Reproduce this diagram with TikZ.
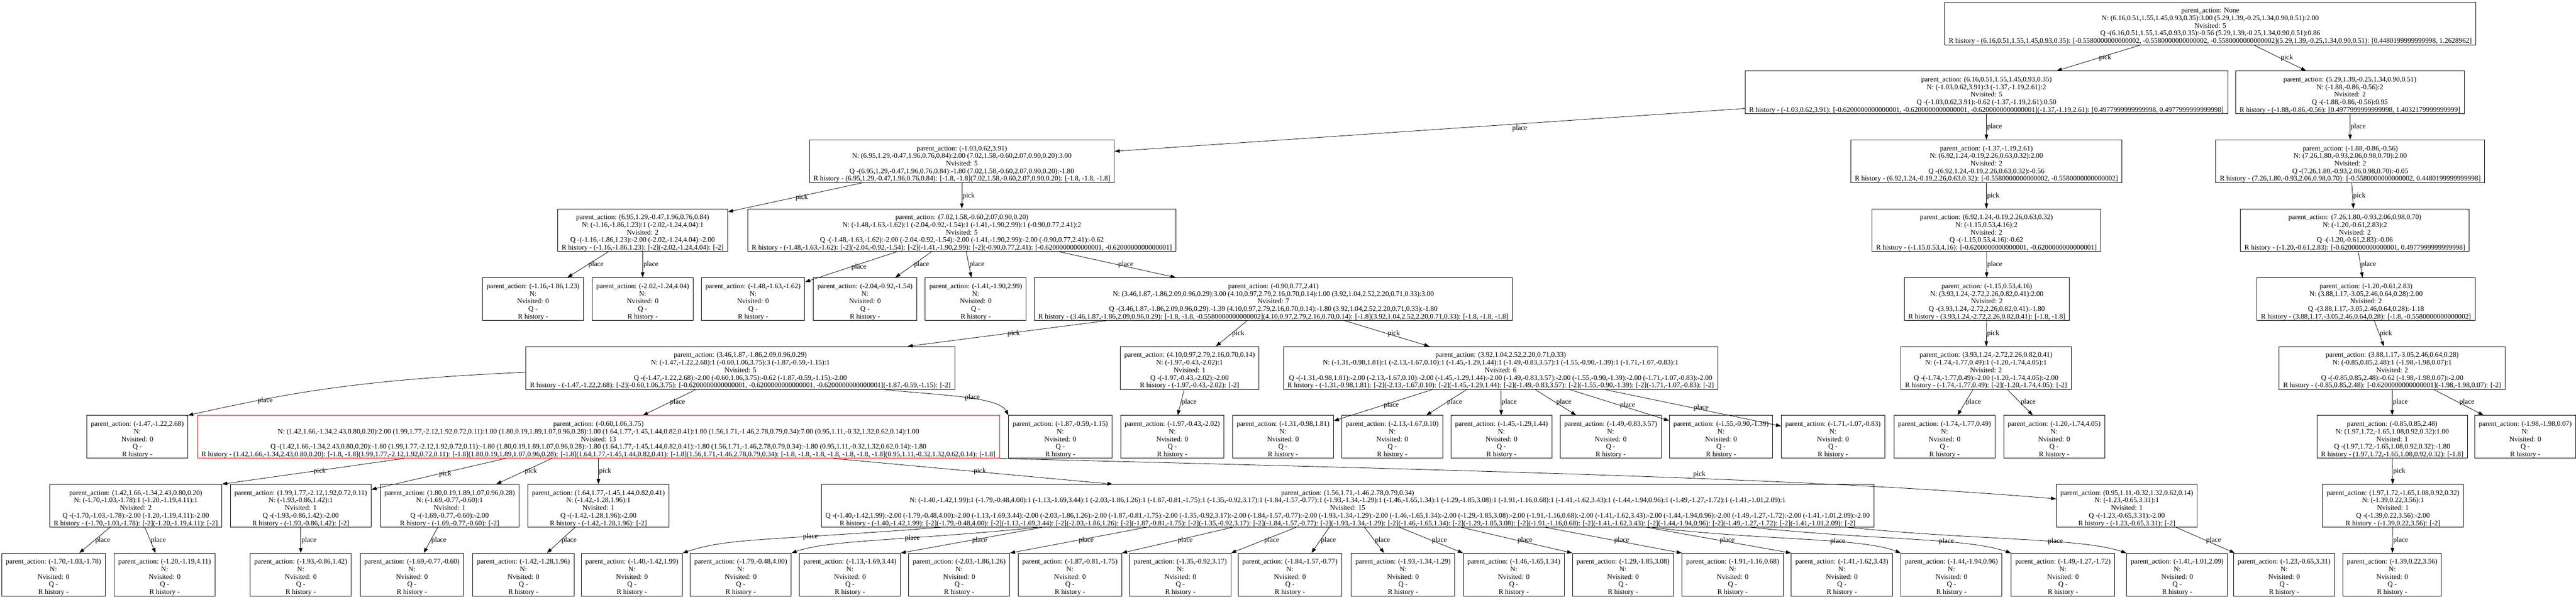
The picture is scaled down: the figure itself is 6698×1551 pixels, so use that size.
\documentclass[tikz,border=0pt]{standalone}
\usepackage{fontspec}
\setmainfont{Liberation Serif}
\usetikzlibrary{arrows.meta,calc}
\newcommand{\pa}{\rule{0pt}{20.3pt}parent\_action: }
\newcommand{\leaf}[1]{\pa #1\\N:\\Nvisited: 0\\Q -\\R history -}
\begin{document}
\begin{tikzpicture}[x=0.75pt, y=-0.75pt,
    box/.style={draw, line width=1pt, rectangle, align=center, anchor=north,
      minimum height=83.25pt, inner xsep=8pt, inner ysep=0pt,
      font=\fontsize{13.78pt}{14.78pt}\selectfont},
    hot/.style={box, draw=red},
    arr/.style={draw, line width=.8pt, -{Triangle[length=10pt,width=7pt]}},
    lbl/.style={font=\fontsize{13.78pt}{14.78pt}\selectfont, anchor=west, inner sep=1pt}]
  \useasboundingbox (0,0) rectangle (6698,1551);
  % root and first two levels
  \node[box] (st0) at (5747,5){\pa None\\N: (6.16,0.51,1.55,1.45,0.93,0.35):3.00 (5.29,1.39,-0.25,1.34,0.90,0.51):2.00\\Nvisited: 5\\Q -(6.16,0.51,1.55,1.45,0.93,0.35):-0.56 (5.29,1.39,-0.25,1.34,0.90,0.51):0.86\\R history - (6.16,0.51,1.55,1.45,0.93,0.35): [-0.5580000000000002, -0.5580000000000002, -0.5580000000000002](5.29,1.39,-0.25,1.34,0.90,0.51): [0.4480199999999998, 1.2628962]};
  \node[box] (st1) at (5165,184){\pa (6.16,0.51,1.55,1.45,0.93,0.35)\\N: (-1.03,0.62,3.91):3 (-1.37,-1.19,2.61):2\\Nvisited: 5\\Q -(-1.03,0.62,3.91):-0.62 (-1.37,-1.19,2.61):0.50\\R history - (-1.03,0.62,3.91): [-0.6200000000000001, -0.6200000000000001, -0.6200000000000001](-1.37,-1.19,2.61): [0.4977999999999998, 0.4977999999999998]};
  \node[box] (st2) at (6110,184){\pa (5.29,1.39,-0.25,1.34,0.90,0.51)\\N: (-1.88,-0.86,-0.56):2\\Nvisited: 2\\Q -(-1.88,-0.86,-0.56):0.95\\R history - (-1.88,-0.86,-0.56): [0.4977999999999998, 1.4032179999999999]};
  \draw[arr] (st0) -- node[lbl]{pick} (st1);
  \draw[arr] (st0) -- node[lbl]{pick} (st2);
  \node[box] (st3) at (2501,363){\pa (-1.03,0.62,3.91)\\N: (6.95,1.29,-0.47,1.96,0.76,0.84):2.00 (7.02,1.58,-0.60,2.07,0.90,0.20):3.00\\Nvisited: 5\\Q -(6.95,1.29,-0.47,1.96,0.76,0.84):-1.80 (7.02,1.58,-0.60,2.07,0.90,0.20):-1.80\\R history - (6.95,1.29,-0.47,1.96,0.76,0.84): [-1.8, -1.8](7.02,1.58,-0.60,2.07,0.90,0.20): [-1.8, -1.8, -1.8]};
  \node[box] (st4) at (5165,363){\pa (-1.37,-1.19,2.61)\\N: (6.92,1.24,-0.19,2.26,0.63,0.32):2.00\\Nvisited: 2\\Q -(6.92,1.24,-0.19,2.26,0.63,0.32):-0.56\\R history - (6.92,1.24,-0.19,2.26,0.63,0.32): [-0.5580000000000002, -0.5580000000000002]};
  \node[box] (st5) at (6111,363){\pa (-1.88,-0.86,-0.56)\\N: (7.26,1.80,-0.93,2.06,0.98,0.70):2.00\\Nvisited: 2\\Q -(7.26,1.80,-0.93,2.06,0.98,0.70):-0.05\\R history - (7.26,1.80,-0.93,2.06,0.98,0.70): [-0.5580000000000002, 0.4480199999999998]};
  \draw[arr] (st1) -- node[lbl, pos=.37, anchor=north west]{place} (st3);
  \draw[arr] (st1) -- node[lbl]{place} (st4);
  \draw[arr] (st2) -- node[lbl]{place} (st5);
  % level 3
  \node[box] (st6) at (1671,542){\pa (6.95,1.29,-0.47,1.96,0.76,0.84)\\N: (-1.16,-1.86,1.23):1 (-2.02,-1.24,4.04):1\\Nvisited: 2\\Q -(-1.16,-1.86,1.23):-2.00 (-2.02,-1.24,4.04):-2.00\\R history - (-1.16,-1.86,1.23): [-2](-2.02,-1.24,4.04): [-2]};
  \node[box] (st7) at (2501,542){\pa (7.02,1.58,-0.60,2.07,0.90,0.20)\\N: (-1.48,-1.63,-1.62):1 (-2.04,-0.92,-1.54):1 (-1.41,-1.90,2.99):1 (-0.90,0.77,2.41):2\\Nvisited: 5\\Q -(-1.48,-1.63,-1.62):-2.00 (-2.04,-0.92,-1.54):-2.00 (-1.41,-1.90,2.99):-2.00 (-0.90,0.77,2.41):-0.62\\R history - (-1.48,-1.63,-1.62): [-2](-2.04,-0.92,-1.54): [-2](-1.41,-1.90,2.99): [-2](-0.90,0.77,2.41): [-0.6200000000000001, -0.6200000000000001]};
  \node[box] (st8) at (5165,542){\pa (6.92,1.24,-0.19,2.26,0.63,0.32)\\N: (-1.15,0.53,4.16):2\\Nvisited: 2\\Q -(-1.15,0.53,4.16):-0.62\\R history - (-1.15,0.53,4.16): [-0.6200000000000001, -0.6200000000000001]};
  \node[box] (st9) at (6123,542){\pa (7.26,1.80,-0.93,2.06,0.98,0.70)\\N: (-1.20,-0.61,2.83):2\\Nvisited: 2\\Q -(-1.20,-0.61,2.83):-0.06\\R history - (-1.20,-0.61,2.83): [-0.6200000000000001, 0.4977999999999998]};
  \draw[arr] (st3) -- node[lbl]{pick} (st6);
  \draw[arr] (st3) -- node[lbl]{pick} (st7);
  \draw[arr] (st4) -- node[lbl]{pick} (st8);
  \draw[arr] (st5) -- node[lbl]{pick} (st9);
  % level 4
  \node[box] (st10) at (1386,721){\leaf{(-1.16,-1.86,1.23)}};
  \node[box] (st11) at (1671,721){\leaf{(-2.02,-1.24,4.04)}};
  \node[box] (st12) at (1958,721){\leaf{(-1.48,-1.63,-1.62)}};
  \node[box] (st13) at (2249,721){\leaf{(-2.04,-0.92,-1.54)}};
  \node[box] (st14) at (2537,721){\leaf{(-1.41,-1.90,2.99)}};
  \node[box] (st15) at (3311,721){\pa (-0.90,0.77,2.41)\\N: (3.46,1.87,-1.86,2.09,0.96,0.29):3.00 (4.10,0.97,2.79,2.16,0.70,0.14):1.00 (3.92,1.04,2.52,2.20,0.71,0.33):3.00\\Nvisited: 7\\Q -(3.46,1.87,-1.86,2.09,0.96,0.29):-1.39 (4.10,0.97,2.79,2.16,0.70,0.14):-1.80 (3.92,1.04,2.52,2.20,0.71,0.33):-1.80\\R history - (3.46,1.87,-1.86,2.09,0.96,0.29): [-1.8, -1.8, -0.5580000000000002](4.10,0.97,2.79,2.16,0.70,0.14): [-1.8](3.92,1.04,2.52,2.20,0.71,0.33): [-1.8, -1.8, -1.8]};
  \node[box] (st16) at (5166,721){\pa (-1.15,0.53,4.16)\\N: (3.93,1.24,-2.72,2.26,0.82,0.41):2.00\\Nvisited: 2\\Q -(3.93,1.24,-2.72,2.26,0.82,0.41):-1.80\\R history - (3.93,1.24,-2.72,2.26,0.82,0.41): [-1.8, -1.8]};
  \node[box] (st17) at (6152,721){\pa (-1.20,-0.61,2.83)\\N: (3.88,1.17,-3.05,2.46,0.64,0.28):2.00\\Nvisited: 2\\Q -(3.88,1.17,-3.05,2.46,0.64,0.28):-1.18\\R history - (3.88,1.17,-3.05,2.46,0.64,0.28): [-1.8, -0.5580000000000002]};
  \draw[arr] (st6) -- node[lbl]{place} (st10);
  \draw[arr] (st6) -- node[lbl]{place} (st11);
  \draw[arr] (st7) -- node[lbl]{place} (st12);
  \draw[arr] (st7) -- node[lbl]{place} (st13);
  \draw[arr] (st7) -- node[lbl]{place} (st14);
  \draw[arr] (st7) -- node[lbl]{place} (st15);
  \draw[arr] (st8) -- node[lbl]{place} (st16);
  \draw[arr] (st9) -- node[lbl]{place} (st17);
  % level 5
  \node[box] (st18) at (1925,900){\pa (3.46,1.87,-1.86,2.09,0.96,0.29)\\N: (-1.47,-1.22,2.68):1 (-0.60,1.06,3.75):3 (-1.87,-0.59,-1.15):1\\Nvisited: 5\\Q -(-1.47,-1.22,2.68):-2.00 (-0.60,1.06,3.75):-0.62 (-1.87,-0.59,-1.15):-2.00\\R history - (-1.47,-1.22,2.68): [-2](-0.60,1.06,3.75): [-0.6200000000000001, -0.6200000000000001, -0.6200000000000001](-1.87,-0.59,-1.15): [-2]};
  \node[box] (st19) at (3093,900){\pa (4.10,0.97,2.79,2.16,0.70,0.14)\\N: (-1.97,-0.43,-2.02):1\\Nvisited: 1\\Q -(-1.97,-0.43,-2.02):-2.00\\R history - (-1.97,-0.43,-2.02): [-2]};
  \node[box] (st20) at (3902,900){\pa (3.92,1.04,2.52,2.20,0.71,0.33)\\N: (-1.31,-0.98,1.81):1 (-2.13,-1.67,0.10):1 (-1.45,-1.29,1.44):1 (-1.49,-0.83,3.57):1 (-1.55,-0.90,-1.39):1 (-1.71,-1.07,-0.83):1\\Nvisited: 6\\Q -(-1.31,-0.98,1.81):-2.00 (-2.13,-1.67,0.10):-2.00 (-1.45,-1.29,1.44):-2.00 (-1.49,-0.83,3.57):-2.00 (-1.55,-0.90,-1.39):-2.00 (-1.71,-1.07,-0.83):-2.00\\R history - (-1.31,-0.98,1.81): [-2](-2.13,-1.67,0.10): [-2](-1.45,-1.29,1.44): [-2](-1.49,-0.83,3.57): [-2](-1.55,-0.90,-1.39): [-2](-1.71,-1.07,-0.83): [-2]};
  \node[box] (st21) at (5164,900){\pa (3.93,1.24,-2.72,2.26,0.82,0.41)\\N: (-1.74,-1.77,0.49):1 (-1.20,-1.74,4.05):1\\Nvisited: 2\\Q -(-1.74,-1.77,0.49):-2.00 (-1.20,-1.74,4.05):-2.00\\R history - (-1.74,-1.77,0.49): [-2](-1.20,-1.74,4.05): [-2]};
  \node[box] (st22) at (6220,900){\pa (3.88,1.17,-3.05,2.46,0.64,0.28)\\N: (-0.85,0.85,2.48):1 (-1.98,-1.98,0.07):1\\Nvisited: 2\\Q -(-0.85,0.85,2.48):-0.62 (-1.98,-1.98,0.07):-2.00\\R history - (-0.85,0.85,2.48): [-0.6200000000000001](-1.98,-1.98,0.07): [-2]};
  \draw[arr] (st15) -- node[lbl]{pick} (st18);
  \draw[arr] (st15) -- node[lbl]{pick} (st19);
  \draw[arr] (st15) -- node[lbl]{pick} (st20);
  \draw[arr] (st16) -- node[lbl]{pick} (st21);
  \draw[arr] (st17) -- node[lbl]{pick} (st22);
  % level 6
  \node[box] (st23) at (357,1079){\leaf{(-1.47,-1.22,2.68)}};
  \node[hot] (st24) at (1556,1079){\pa (-0.60,1.06,3.75)\\N: (1.42,1.66,-1.34,2.43,0.80,0.20):2.00 (1.99,1.77,-2.12,1.92,0.72,0.11):1.00 (1.80,0.19,1.89,1.07,0.96,0.28):1.00 (1.64,1.77,-1.45,1.44,0.82,0.41):1.00 (1.56,1.71,-1.46,2.78,0.79,0.34):7.00 (0.95,1.11,-0.32,1.32,0.62,0.14):1.00\\Nvisited: 13\\Q -(1.42,1.66,-1.34,2.43,0.80,0.20):-1.80 (1.99,1.77,-2.12,1.92,0.72,0.11):-1.80 (1.80,0.19,1.89,1.07,0.96,0.28):-1.80 (1.64,1.77,-1.45,1.44,0.82,0.41):-1.80 (1.56,1.71,-1.46,2.78,0.79,0.34):-1.80 (0.95,1.11,-0.32,1.32,0.62,0.14):-1.80\\R history - (1.42,1.66,-1.34,2.43,0.80,0.20): [-1.8, -1.8](1.99,1.77,-2.12,1.92,0.72,0.11): [-1.8](1.80,0.19,1.89,1.07,0.96,0.28): [-1.8](1.64,1.77,-1.45,1.44,0.82,0.41): [-1.8](1.56,1.71,-1.46,2.78,0.79,0.34): [-1.8, -1.8, -1.8, -1.8, -1.8, -1.8, -1.8](0.95,1.11,-0.32,1.32,0.62,0.14): [-1.8]};
  \node[box] (st25) at (2757,1079){\leaf{(-1.87,-0.59,-1.15)}};
  \node[box] (st26) at (3048,1079){\leaf{(-1.97,-0.43,-2.02)}};
  \node[box] (st27) at (3336,1079){\leaf{(-1.31,-0.98,1.81)}};
  \node[box] (st28) at (3620,1079){\leaf{(-2.13,-1.67,0.10)}};
  \node[box] (st29) at (3904,1079){\leaf{(-1.45,-1.29,1.44)}};
  \node[box] (st30) at (4188,1079){\leaf{(-1.49,-0.83,3.57)}};
  \node[box] (st31) at (4475,1079){\leaf{(-1.55,-0.90,-1.39)}};
  \node[box] (st32) at (4766,1079){\leaf{(-1.71,-1.07,-0.83)}};
  \node[box] (st33) at (5056,1079){\leaf{(-1.74,-1.77,0.49)}};
  \node[box] (st34) at (5341,1079){\leaf{(-1.20,-1.74,4.05)}};
  \node[box] (st35) at (6220,1079){\pa (-0.85,0.85,2.48)\\N: (1.97,1.72,-1.65,1.08,0.92,0.32):1.00\\Nvisited: 1\\Q -(1.97,1.72,-1.65,1.08,0.92,0.32):-1.80\\R history - (1.97,1.72,-1.65,1.08,0.92,0.32): [-1.8]};
  \node[box] (st36) at (6566,1079){\leaf{(-1.98,-1.98,0.07)}};
  \draw[arr] ($(st18.west)+(0,11)$) .. controls +(-450,20) and +(250,-55) .. node[lbl, pos=.75]{place} (st23.north east);
  \draw[arr] (st18) -- node[lbl]{place} (st24);
  \draw[arr] ($(st18.south)+(373,0)$) .. controls +(150,15) and +(-25,-48) .. node[lbl]{place} (st25.north west);
  \draw[arr] (st19) -- node[lbl]{place} (st26);
  \draw[arr] (st20) -- node[lbl]{place} (st27);
  \draw[arr] (st20) -- node[lbl]{place} (st28);
  \draw[arr] (st20) -- node[lbl]{place} (st29);
  \draw[arr] (st20) -- node[lbl]{place} (st30);
  \draw[arr] (st20) -- node[lbl]{place} (st31);
  \draw[arr] (st20) -- node[lbl]{place} (st32);
  \draw[arr] (st21) -- node[lbl]{place} (st33);
  \draw[arr] (st21) -- node[lbl]{place} (st34);
  \draw[arr] (st22) -- node[lbl]{place} (st35);
  \draw[arr] (st22) -- node[lbl]{place} (st36);
  % level 7
  \node[box] (st37) at (353,1258){\pa (1.42,1.66,-1.34,2.43,0.80,0.20)\\N: (-1.70,-1.03,-1.78):1 (-1.20,-1.19,4.11):1\\Nvisited: 2\\Q -(-1.70,-1.03,-1.78):-2.00 (-1.20,-1.19,4.11):-2.00\\R history - (-1.70,-1.03,-1.78): [-2](-1.20,-1.19,4.11): [-2]};
  \node[box] (st38) at (782,1258){\pa (1.99,1.77,-2.12,1.92,0.72,0.11)\\N: (-1.93,-0.86,1.42):1\\Nvisited: 1\\Q -(-1.93,-0.86,1.42):-2.00\\R history - (-1.93,-0.86,1.42): [-2]};
  \node[box] (st39) at (1169,1258){\pa (1.80,0.19,1.89,1.07,0.96,0.28)\\N: (-1.69,-0.77,-0.60):1\\Nvisited: 1\\Q -(-1.69,-0.77,-0.60):-2.00\\R history - (-1.69,-0.77,-0.60): [-2]};
  \node[box] (st40) at (1556,1258){\pa (1.64,1.77,-1.45,1.44,0.82,0.41)\\N: (-1.42,-1.28,1.96):1\\Nvisited: 1\\Q -(-1.42,-1.28,1.96):-2.00\\R history - (-1.42,-1.28,1.96): [-2]};
  \node[box] (st41) at (3504,1258){\pa (1.56,1.71,-1.46,2.78,0.79,0.34)\\N: (-1.40,-1.42,1.99):1 (-1.79,-0.48,4.00):1 (-1.13,-1.69,3.44):1 (-2.03,-1.86,1.26):1 (-1.87,-0.81,-1.75):1 (-1.35,-0.92,3.17):1 (-1.84,-1.57,-0.77):1 (-1.93,-1.34,-1.29):1 (-1.46,-1.65,1.34):1 (-1.29,-1.85,3.08):1 (-1.91,-1.16,0.68):1 (-1.41,-1.62,3.43):1 (-1.44,-1.94,0.96):1 (-1.49,-1.27,-1.72):1 (-1.41,-1.01,2.09):1\\Nvisited: 15\\Q -(-1.40,-1.42,1.99):-2.00 (-1.79,-0.48,4.00):-2.00 (-1.13,-1.69,3.44):-2.00 (-2.03,-1.86,1.26):-2.00 (-1.87,-0.81,-1.75):-2.00 (-1.35,-0.92,3.17):-2.00 (-1.84,-1.57,-0.77):-2.00 (-1.93,-1.34,-1.29):-2.00 (-1.46,-1.65,1.34):-2.00 (-1.29,-1.85,3.08):-2.00 (-1.91,-1.16,0.68):-2.00 (-1.41,-1.62,3.43):-2.00 (-1.44,-1.94,0.96):-2.00 (-1.49,-1.27,-1.72):-2.00 (-1.41,-1.01,2.09):-2.00\\R history - (-1.40,-1.42,1.99): [-2](-1.79,-0.48,4.00): [-2](-1.13,-1.69,3.44): [-2](-2.03,-1.86,1.26): [-2](-1.87,-0.81,-1.75): [-2](-1.35,-0.92,3.17): [-2](-1.84,-1.57,-0.77): [-2](-1.93,-1.34,-1.29): [-2](-1.46,-1.65,1.34): [-2](-1.29,-1.85,3.08): [-2](-1.91,-1.16,0.68): [-2](-1.41,-1.62,3.43): [-2](-1.44,-1.94,0.96): [-2](-1.49,-1.27,-1.72): [-2](-1.41,-1.01,2.09): [-2]};
  \node[box] (st42) at (5530,1258){\pa (0.95,1.11,-0.32,1.32,0.62,0.14)\\N: (-1.23,-0.65,3.31):1\\Nvisited: 1\\Q -(-1.23,-0.65,3.31):-2.00\\R history - (-1.23,-0.65,3.31): [-2]};
  \node[box] (st43) at (6222,1258){\pa (1.97,1.72,-1.65,1.08,0.92,0.32)\\N: (-1.39,0.22,3.56):1\\Nvisited: 1\\Q -(-1.39,0.22,3.56):-2.00\\R history - (-1.39,0.22,3.56): [-2]};
  \draw[arr] ($(st24.south)+(-506,0)$) -- node[lbl]{pick} (st37.north east);
  \draw[arr] (st24) -- node[lbl]{pick} (st38);
  \draw[arr] (st24) -- node[lbl]{pick} (st39);
  \draw[arr] (st24) -- node[lbl]{pick} (st40);
  \draw[arr] (st24) -- node[lbl]{pick} (st41);
  \draw[arr] (st24.south east) .. controls +(1400,35) and +(-600,-50) .. node[lbl, pos=.55, anchor=south west]{pick} ($(st42.west)+(0,-18)$);
  \draw[arr] (st35) -- node[lbl]{pick} (st43);
  % level 8
  \node[box] (st44) at (139,1437){\leaf{(-1.70,-1.03,-1.78)}};
  \node[box] (st45) at (428,1437){\leaf{(-1.20,-1.19,4.11)}};
  \node[box] (st46) at (782,1437){\leaf{(-1.93,-0.86,1.42)}};
  \node[box] (st47) at (1071,1437){\leaf{(-1.69,-0.77,-0.60)}};
  \node[box] (st48) at (1361,1437){\leaf{(-1.42,-1.28,1.96)}};
  \node[box] (st49) at (1643,1437){\leaf{(-1.40,-1.42,1.99)}};
  \node[box] (st50) at (1926,1437){\leaf{(-1.79,-0.48,4.00)}};
  \node[box] (st51) at (2210,1437){\leaf{(-1.13,-1.69,3.44)}};
  \node[box] (st52) at (2494,1437){\leaf{(-2.03,-1.86,1.26)}};
  \node[box] (st53) at (2782,1437){\leaf{(-1.87,-0.81,-1.75)}};
  \node[box] (st54) at (3069,1437){\leaf{(-1.35,-0.92,3.17)}};
  \node[box] (st55) at (3354,1437){\leaf{(-1.84,-1.57,-0.77)}};
  \node[box] (st56) at (3648,1437){\leaf{(-1.93,-1.34,-1.29)}};
  \node[box] (st57) at (3936,1437){\leaf{(-1.46,-1.65,1.34)}};
  \node[box] (st58) at (4220,1437){\leaf{(-1.29,-1.85,3.08)}};
  \node[box] (st59) at (4505,1437){\leaf{(-1.91,-1.16,0.68)}};
  \node[box] (st60) at (4789,1437){\leaf{(-1.41,-1.62,3.43)}};
  \node[box] (st61) at (5074,1437){\leaf{(-1.44,-1.94,0.96)}};
  \node[box] (st62) at (5364,1437){\leaf{(-1.49,-1.27,-1.72)}};
  \node[box] (st63) at (5661,1437){\leaf{(-1.41,-1.01,2.09)}};
  \node[box] (st64) at (5939,1437){\leaf{(-1.23,-0.65,3.31)}};
  \node[box] (st65) at (6220,1437){\leaf{(-1.39,0.22,3.56)}};
  \draw[arr] (st37) -- node[lbl]{place} (st44);
  \draw[arr] (st37) -- node[lbl]{place} (st45);
  \draw[arr] (st38) -- node[lbl]{place} (st46);
  \draw[arr] (st39) -- node[lbl]{place} (st47);
  \draw[arr] (st40) -- node[lbl]{place} (st48);
  \draw[arr] ($(st41.south)+(-1058,0)$) .. controls +(-450,35) and +(120,-40) .. node[lbl, pos=.35]{place} (st49.north east);
  \draw[arr] ($(st41.south)+(-805,0)$) .. controls +(-350,35) and +(100,-35) .. node[lbl, pos=.4]{place} (st50.north east);
  \draw[arr] ($(st41.south)+(-794,0)$) -- node[lbl]{place} (st51.north east);
  \draw[arr] ($(st41.south)+(-524,0)$) -- node[lbl]{place} (st52.north east);
  \draw[arr] ($(st41.south)+(-300,0)$) -- node[lbl]{place} (st53.north east);
  \draw[arr] ($(st41.south)+(-134,0)$) -- node[lbl]{place} (st54.north east);
  \draw[arr] ($(st41.south)+(-48,0)$) -- node[lbl]{place} ($(st55.north)+(56,0)$);
  \draw[arr] ($(st41.south)+(44,0)$) -- node[lbl]{place} ($(st56.north)+(-49,0)$);
  \draw[arr] ($(st41.south)+(135,0)$) -- node[lbl]{place} (st57.north west);
  \draw[arr] ($(st41.south)+(296,0)$) -- node[lbl]{place} (st58.north west);
  \draw[arr] ($(st41.south)+(514,0)$) -- node[lbl]{place} (st59.north west);
  \draw[arr] ($(st41.south)+(778,0)$) -- node[lbl]{place} (st60.north west);
  \draw[arr] ($(st41.south)+(790,0)$) .. controls +(300,35) and +(-100,-40) .. node[lbl, pos=.6]{place} (st61.north west);
  \draw[arr] ($(st41.south)+(1048,0)$) .. controls +(350,35) and +(-120,-40) .. node[lbl, pos=.6]{place} (st62.north west);
  \draw[arr] ($(st41.south)+(1301,0)$) .. controls +(350,35) and +(-120,-40) .. node[lbl, pos=.6]{place} (st63.north west);
  \draw[arr] (st42) -- node[lbl]{place} (st64);
  \draw[arr] (st43) -- node[lbl]{place} (st65);
\end{tikzpicture}
\end{document}
